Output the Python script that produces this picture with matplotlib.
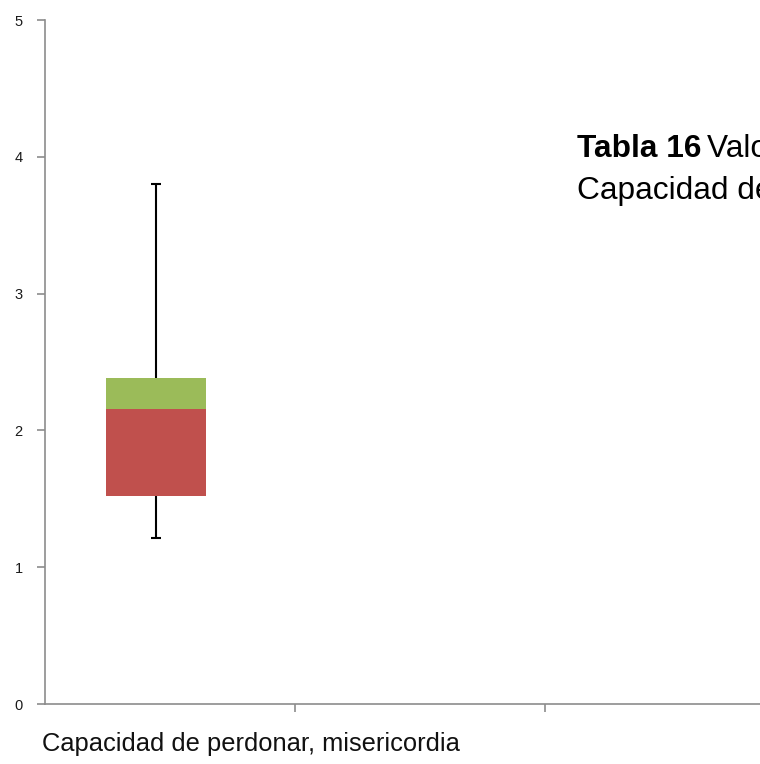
import matplotlib.pyplot as plt
from matplotlib import font_manager as fm

# データ
categories = ['Capacidad de perdonar, misericordia']
whisker_low = [1.21]
q1 = [1.52]
median = [2.16]
q3 = [2.38]
whisker_high = [3.80]
y_ticks = [0, 1, 2, 3, 4, 5]

# 細いフォントがあれば使う
try:
    fm.findfont(fm.FontProperties(family='Liberation Sans Narrow'), fallback_to_default=False)
    label_family, label_size = ['Liberation Sans Narrow', 'DejaVu Sans'], 22
except ValueError:
    label_family, label_size = ['Liberation Sans', 'DejaVu Sans'], 18.4

fig = plt.figure(figsize=(7.6, 7.64), dpi=100)
ax = fig.add_axes([45 / 760, 60 / 764, 750 / 760, 684 / 764])

x = list(range(len(categories)))
lower_h = [m - a for m, a in zip(median, q1)]
upper_h = [b - m for b, m in zip(q3, median)]

ax.bar(x, lower_h, bottom=q1, width=0.4, color='#C0504D', zorder=2)
ax.bar(x, upper_h, bottom=median, width=0.4, color='#9BBB59', zorder=2)

# ひげ
ax.vlines(x, q3, whisker_high, color='black', lw=1.5, zorder=1)
ax.vlines(x, whisker_low, q1, color='black', lw=1.5, zorder=1)
ax.hlines(whisker_high, [i - 0.02 for i in x], [i + 0.02 for i in x], color='black', lw=1.5)
ax.hlines(whisker_low, [i - 0.02 for i in x], [i + 0.02 for i in x], color='black', lw=1.5)

ax.set_xlim(-0.444, 2.556)
ax.set_ylim(0, 5)
ax.set_yticks(y_ticks)
ax.set_xticks([0.556, 1.556])
ax.set_xticklabels([])

for s in ['top', 'right']:
    ax.spines[s].set_visible(False)
for s in ['left', 'bottom']:
    ax.spines[s].set_color('#8c8c8c')
    ax.spines[s].set_linewidth(1.2)
ax.tick_params(axis='both', color='#8c8c8c', length=6, width=1.2, direction='out')
ax.tick_params(axis='y', labelsize=10.5, pad=10)
for t in ax.get_yticklabels():
    t.set_color('#1a1a1a')
    t.set_family(['Liberation Sans', 'DejaVu Sans'])

ax.text(-0.004, -0.041, categories[0], transform=ax.transAxes, ha='left', va='top',
        fontsize=label_size, family=label_family, color='#111111')

# 重なったテキストボックス（右側で切れている）
fig.text(577 / 760, 1 - 149 / 764, 'Tabla 16', fontsize=22.8, fontweight='bold',
         family=['Liberation Sans', 'DejaVu Sans'], ha='left', va='center')
fig.text(707 / 760, 1 - 149 / 764, 'Valores de la variable', fontsize=22.8,
         family=['Liberation Sans', 'DejaVu Sans'], ha='left', va='center')
fig.text(577 / 760, 1 - 191 / 764, 'Capacidad de perdonar, misericordia', fontsize=22.8,
         family=['Liberation Sans', 'DejaVu Sans'], ha='left', va='center')

fig.savefig('out.png', dpi=100)
